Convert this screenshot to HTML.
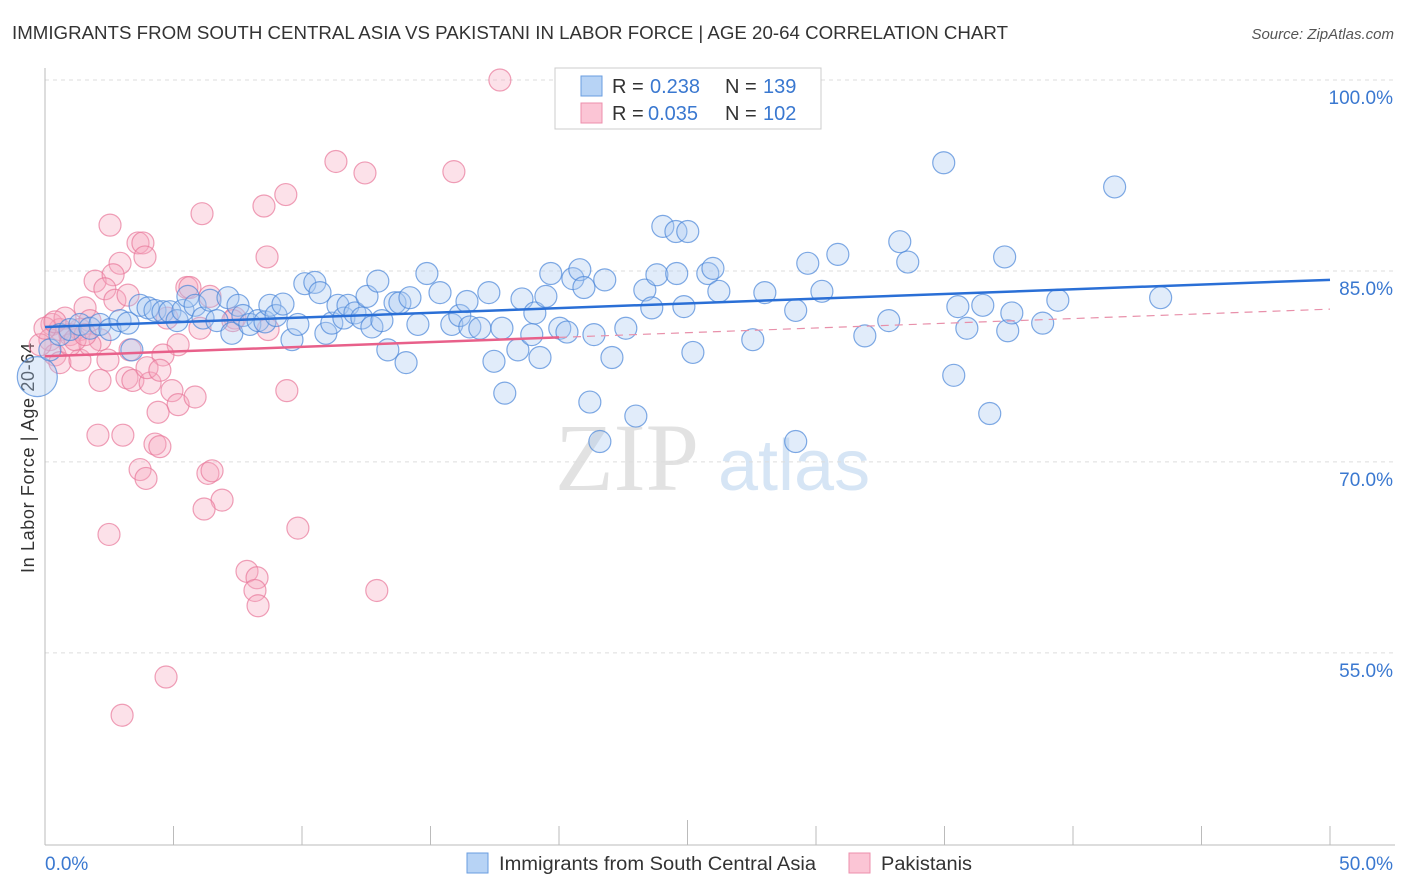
<!DOCTYPE html>
<html><head><meta charset="utf-8"><style>
body{margin:0;background:#fff;font-family:"Liberation Sans",sans-serif;}
#wrap{position:relative;width:1406px;height:892px;overflow:hidden;}
</style></head><body>
<div id="wrap">
<svg id="svg" width="1406" height="892" xmlns="http://www.w3.org/2000/svg">
<text x="12" y="39" font-size="18" fill="#333" textLength="996" lengthAdjust="spacingAndGlyphs">IMMIGRANTS FROM SOUTH CENTRAL ASIA VS PAKISTANI IN LABOR FORCE | AGE 20-64 CORRELATION CHART</text>
<text x="1394" y="39" font-size="15" fill="#555" font-style="italic" text-anchor="end">Source: ZipAtlas.com</text>
<text x="555" y="490" font-size="96" fill="#e2e2e2" font-family="Liberation Serif,serif">ZIP</text>
<text x="718" y="490" font-size="72" fill="#d6e5f5">atlas</text>
<text transform="translate(34,458) rotate(-90)" font-size="18" fill="#333" text-anchor="middle" textLength="230">In Labor Force | Age 20-64</text>
<g id="grid"></g><g id="pts"></g><g id="trend"></g>
<g>
<rect x="555" y="68" width="266" height="61" fill="#fff" stroke="#ccc"/>
<rect x="581" y="76" width="21" height="20" fill="#b7d3f5" stroke="#6a9ee0"/>
<rect x="581" y="103" width="21" height="20" fill="#fbc5d5" stroke="#ec8fac"/>
<text x="612" y="93" font-size="20" fill="#333">R = <tspan x="650" fill="#3a78d0">0.238</tspan><tspan x="725">N = </tspan><tspan x="763" fill="#3a78d0">139</tspan></text>
<text x="612" y="120" font-size="20" fill="#333">R = <tspan x="648" fill="#3a78d0">0.035</tspan><tspan x="725">N = </tspan><tspan x="763" fill="#3a78d0">102</tspan></text>
</g>
<g>
<rect x="467" y="853" width="21" height="20" fill="#b7d3f5" stroke="#6a9ee0"/>
<text x="499" y="870" font-size="19" fill="#333" textLength="317" lengthAdjust="spacingAndGlyphs">Immigrants from South Central Asia</text>
<rect x="849" y="853" width="21" height="20" fill="#fbc5d5" stroke="#ec8fac"/>
<text x="881" y="870" font-size="19" fill="#333" textLength="91" lengthAdjust="spacingAndGlyphs">Pakistanis</text>
</g>
</svg></div>
<script>
const yTicks=[100,85,70,55];
const yTickLabels=["100.0%","85.0%","70.0%","55.0%"];
const xTicks=[0,5,10,15,20,25,30,35,40,45,50];
const xEndLabels=["0.0%","50.0%"];
const blueX=[-0.3,0.19,0.58,0.97,1.36,1.75,2.14,2.53,2.92,3.23,3.38,3.70,4.01,4.28,4.59,4.86,5.14,5.37,5.56,5.84,6.15,6.42,6.69,7.12,7.27,7.51,7.70,7.97,8.29,8.56,8.75,8.99,9.26,9.61,9.84,10.11,10.50,10.70,10.93,11.16,11.40,11.63,11.79,12.06,12.33,12.53,12.72,12.95,13.11,13.34,13.62,13.81,14.05,14.20,14.51,14.86,15.37,15.83,16.14,16.42,16.53,16.92,17.27,17.47,17.78,17.89,18.40,18.56,18.94,19.06,19.26,19.49,19.68,20.03,20.31,20.54,20.81,20.97,21.20,21.36,21.59,21.78,22.06,22.60,22.99,23.34,23.61,23.81,24.04,24.55,25.01,24.58,24.86,25.21,25.79,25.99,26.22,27.54,28.01,29.21,29.21,29.68,30.23,30.85,31.90,32.83,33.26,33.57,34.97,35.36,35.52,35.87,36.49,36.76,37.34,37.46,37.62,38.82,39.41,41.62,43.41,29.45];
const blueY=[76.7,78.8,80.0,80.4,80.8,80.5,80.8,80.4,81.1,80.9,78.8,82.3,82.1,81.9,81.8,81.8,81.1,81.9,83.0,82.3,81.3,82.7,81.1,82.9,80.1,82.3,81.5,80.8,81.1,81.0,82.3,81.5,82.4,79.6,80.8,84.0,84.1,83.3,80.1,80.9,82.3,81.3,82.3,81.7,81.3,83.0,80.6,84.2,81.1,78.8,82.5,82.5,77.8,82.9,80.8,84.8,83.3,80.8,81.5,82.6,80.6,80.5,83.3,77.9,80.5,75.4,78.8,82.8,80.0,81.7,78.2,83.0,84.8,80.5,80.2,84.4,85.1,83.7,74.7,80.0,71.6,84.3,78.2,80.5,73.6,83.5,82.1,84.7,88.5,88.1,88.1,84.8,82.2,78.6,84.8,85.2,83.4,79.6,83.3,71.6,81.9,85.6,83.4,86.3,79.9,81.1,87.3,85.7,93.5,76.8,82.2,80.5,82.3,73.8,86.1,80.3,81.7,80.9,82.7,91.6,82.9,100.0];
const pinkX=[17.70,11.32,12.45,15.91,9.37,8.52,6.11,2.53,3.62,3.81,3.89,8.64,2.92,1.95,2.65,2.33,5.52,5.64,6.42,2.72,3.23,1.56,0.27,0.58,0.97,1.36,1.75,2.14,0.19,0.39,0.58,4.75,7.39,6.03,8.68,5.18,4.59,3.31,2.45,1.36,2.14,3.19,3.42,4.09,3.97,4.47,4.94,5.18,5.84,9.41,4.40,2.06,3.03,4.28,4.47,3.70,3.93,6.34,6.50,6.89,6.19,9.84,2.49,7.86,8.25,8.17,8.29,12.91,4.71,3.00,7.31,0.97,-0.19,0,0.78,1.75,1.17,1.56,0.39];
const pinkY=[100.0,93.6,92.7,92.8,91.0,90.1,89.5,88.6,87.2,87.2,86.1,86.1,85.6,84.2,84.7,83.6,83.7,83.7,83.0,82.7,83.1,82.1,80.8,80.4,80.0,80.4,81.1,79.6,79.6,78.4,77.8,81.3,81.3,80.5,80.4,79.2,78.4,78.8,78.0,78.0,76.4,76.6,76.4,76.2,77.4,77.2,75.6,74.5,75.1,75.6,73.9,72.1,72.1,71.4,71.2,69.4,68.7,69.1,69.3,67.0,66.3,64.8,64.3,61.4,60.9,59.9,58.7,59.9,53.1,50.1,81.1,79.2,79.2,80.5,81.3,79.2,79.6,80.0,81.0];
const blueTrend=[80.6,84.3];
const pinkTrend=[78.3,82.0];
const pinkSolidEnd=20;
const NS="http://www.w3.org/2000/svg";
const xs=v=>45+v*25.7, ys=v=>80+(100-v)*12.73;
function mk(t,a,p){const e=document.createElementNS(NS,t);for(const k in a)e.setAttribute(k,a[k]);p.appendChild(e);return e;}
const grid=document.getElementById('grid');
yTicks.forEach((t,i)=>{const l=mk('line',{x1:45,x2:1395,y1:ys(t),y2:ys(t),stroke:'#ddd','stroke-dasharray':'4,4'},grid);


const tx=mk('text',{x:1393,y:ys(t)+24,'font-size':19,fill:'#3a78d0','text-anchor':'end'},grid);tx.textContent=yTickLabels[i];

});
mk('line',{x1:45,x2:45,y1:68,y2:845,stroke:'#bbb'},grid);
mk('line',{x1:45,x2:1395,y1:845,y2:845,stroke:'#bbb'},grid);
xTicks.forEach(t=>{const l=mk('line',{x1:xs(t),x2:xs(t),y1:t==25?820:826,y2:845,stroke:'#bbb'},grid);

});
[[0,'start',45],[50,'end',1393]].forEach((d,i)=>{const tx=mk('text',{x:d[2],y:870,'font-size':19,fill:'#3a78d0','text-anchor':d[1]},grid);tx.textContent=xEndLabels[i];

});
const pts=document.getElementById('pts');
function draw(X,Y,fill,stroke,name){X.forEach((x,i)=>{const r=(i==0&&name=='blue-point')?20:11;
const c=mk('circle',{cx:xs(x),cy:ys(Y[i]),r:r,fill:fill,'fill-opacity':0.35,stroke:stroke,'stroke-opacity':0.7,'stroke-width':1.2},pts);

});}
draw(pinkX,pinkY,'#f5a8c0','#e8789a','pink-point');
draw(blueX,blueY,'#a8c8f0','#4a86d8','blue-point');
const tr=document.getElementById('trend');
const b=mk('line',{x1:xs(0),y1:ys(blueTrend[0]),x2:xs(50),y2:ys(blueTrend[1]),stroke:'#2a6fd6','stroke-width':2.5},tr);


const pAt=v=>pinkTrend[0]+(pinkTrend[1]-pinkTrend[0])*v/50;
const p1=mk('line',{x1:xs(0),y1:ys(pAt(0)),x2:xs(pinkSolidEnd),y2:ys(pAt(pinkSolidEnd)),stroke:'#e8608a','stroke-width':2.5},tr);


const p2=mk('line',{x1:xs(pinkSolidEnd),y1:ys(pAt(pinkSolidEnd)),x2:xs(50),y2:ys(pAt(50)),stroke:'#e890aa','stroke-width':1.2,'stroke-dasharray':'8,6'},tr);


</script>
</body></html>
